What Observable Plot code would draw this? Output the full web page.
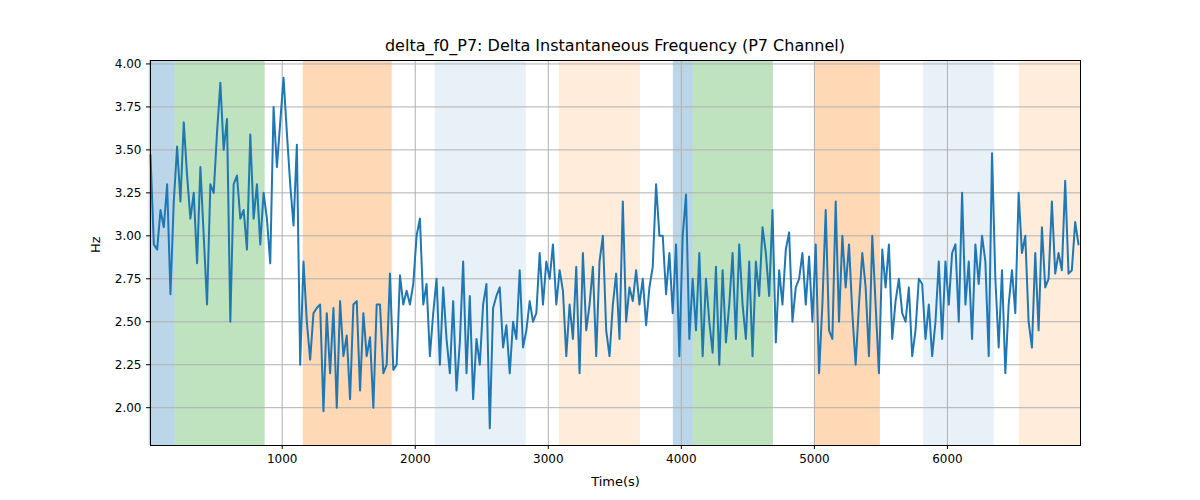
<!DOCTYPE html>
<html><head><meta charset="utf-8">
<script src="https://cdn.jsdelivr.net/npm/d3@7"></script>
<script src="https://cdn.jsdelivr.net/npm/@observablehq/plot@0.6"></script>
<style>body{margin:0;background:#fff;font-family:"DejaVu Sans",sans-serif}
#t{height:50px;width:1230px;text-align:center;font-size:16px;padding-top:36px;box-sizing:border-box;line-height:20px}</style>
</head><body><div id="t">delta_f0_P7: Delta Instantaneous Frequency (P7 Channel)</div><div id="c"></div>
<script>
const values = [
3.47,2.95,2.92,3.15,3.05,3.3,2.66,3.2,3.52,3.2,3.66,3.35,3.1,3.25,2.84,3.4,3.0,2.6,3.3,3.25,3.6,3.89,3.5,3.68,2.5,3.3,3.35,3.1,3.15,2.92,3.59,3.1,3.3,2.95,3.25,3.1,2.84,3.75,3.4,3.66,
3.92,3.6,3.3,3.06,3.53,2.25,2.85,2.5,2.28,2.55,2.58,2.6,1.98,2.55,2.2,2.58,2.0,2.62,2.3,2.42,2.05,2.6,2.62,2.1,2.55,2.3,2.41,2.0,2.6,2.6,2.2,2.25,2.78,2.22,2.25,2.77,2.6,2.68,2.6,2.72,
3.0,3.1,2.6,2.72,2.3,2.55,2.75,2.25,2.7,2.4,2.2,2.62,2.1,2.38,2.85,2.2,2.65,2.05,2.4,2.25,2.6,2.72,1.88,2.58,2.65,2.7,2.35,2.48,2.2,2.5,2.4,2.8,2.35,2.45,2.62,2.5,2.55,2.9,2.6,2.85,
2.75,2.95,2.6,2.8,2.68,2.3,2.6,2.4,2.82,2.2,2.9,2.45,2.6,2.82,2.3,2.85,3.0,2.45,2.3,2.6,2.78,2.4,3.2,2.5,2.7,2.62,2.8,2.6,2.75,2.48,2.7,2.82,3.3,3.0,3.0,2.66,2.9,2.55,2.95,2.3,
3.0,3.24,2.4,2.75,2.45,2.9,2.3,2.75,2.5,2.32,2.82,2.25,2.8,2.38,2.6,2.9,2.4,2.95,2.6,2.4,2.85,2.3,2.85,2.65,3.05,2.9,2.65,3.15,2.38,2.8,2.6,2.92,3.02,2.5,2.7,2.75,2.9,2.6,2.88,2.5,
2.95,2.2,2.6,3.15,2.45,2.4,3.2,2.5,3.0,2.7,2.95,2.55,2.25,2.6,2.9,2.7,2.3,3.0,2.6,2.2,2.92,2.7,2.95,2.4,2.62,2.75,2.55,2.5,2.7,2.3,2.45,2.75,2.72,2.4,2.6,2.3,2.5,2.85,2.4,2.85,
2.6,2.9,2.95,2.5,3.25,2.6,2.85,2.4,2.95,2.72,3.0,2.85,2.3,3.48,2.75,2.35,2.8,2.2,2.6,2.8,2.55,3.25,2.9,3.0,2.5,2.35,2.9,2.45,3.05,2.7,2.75,3.2,2.78,2.9,2.8,3.32,2.78,2.8,3.08,2.95];
const tStart = 10, tStep = 25;
const regionStart = [0,195,1158,2150,3083,3940,4090,5008,5820,6541];
const regionEnd =   [195,872,1827,2835,3692,4090,4692,5496,6353,7000];
const regionColor = ["#1f77b4","#2ca02c","#ff7f0e","#1f77b4","#ff7f0e","#1f77b4","#2ca02c","#ff7f0e","#1f77b4","#ff7f0e"];
const regionAlpha = [0.3,0.3,0.3,0.1,0.15,0.3,0.3,0.3,0.1,0.15];
const yTicks = [2.00,2.25,2.50,2.75,3.00,3.25,3.50,3.75,4.00];
const xTicks = [1000,2000,3000,4000,5000,6000];
const data = values.map((v,i)=>({t:tStart+i*tStep, v}));
const regions = regionStart.map((s,i)=>({s,e:regionEnd[i],c:regionColor[i],a:regionAlpha[i]}));
const p = Plot.plot({
  width:1200, height:450, marginTop:10, marginBottom:55, marginLeft:150, marginRight:120,
  style:{fontFamily:"DejaVu Sans", fontSize:"12px", color:"#000"},
  x:{domain:[10,7000]},
  y:{domain:[1.78,4.02]},
  marks:[
    Plot.rectX(regions,{x1:"s",x2:"e",y1:1.78,y2:4.02,fill:"c",fillOpacity:"a"}),
    Plot.gridX(xTicks,{stroke:"#b0b0b0",strokeOpacity:1}),
    Plot.gridY(yTicks,{stroke:"#b0b0b0",strokeOpacity:1}),
    Plot.line(data,{x:"t",y:"v",stroke:"#1f77b4",strokeWidth:2}),
    Plot.frame({stroke:"#000"}),
    Plot.axisX({ticks:xTicks,tickSize:4,tickFormat:d3.format("d"),label:null}),
    Plot.axisY({ticks:yTicks,tickSize:4,tickFormat:d3.format(".2f"),label:null}),
    Plot.text(["Time(s)"],{frameAnchor:"bottom",dy:40,fontSize:13}),
    Plot.text(["Hz"],{frameAnchor:"left",dx:-55,rotate:-90,fontSize:13})
  ]
});
document.getElementById("c").appendChild(p);
</script></body></html>
